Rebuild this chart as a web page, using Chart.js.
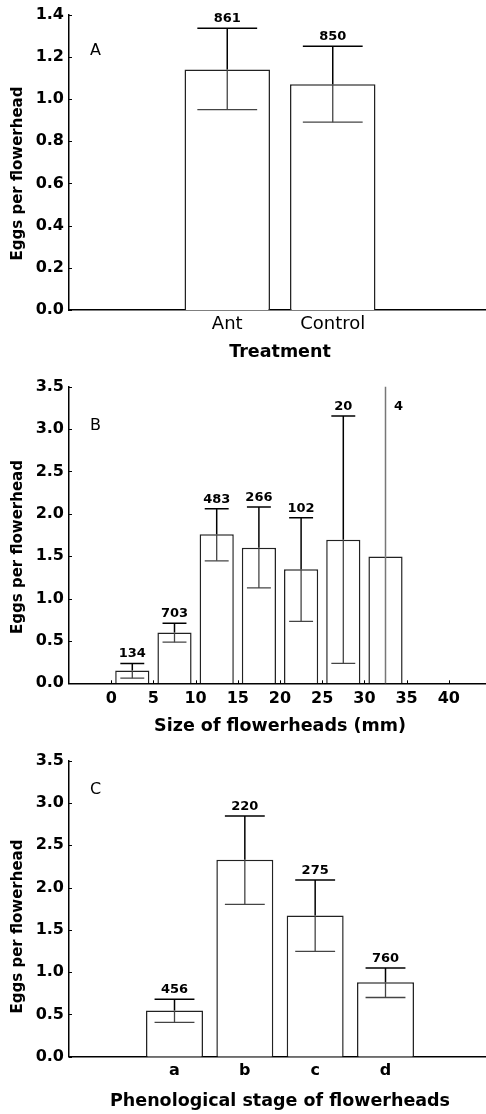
<!DOCTYPE html>
<html><head><meta charset="utf-8">
<script src="https://cdn.jsdelivr.net/npm/chart.js@4.4.1/dist/chart.umd.min.js"></script>
<style>
html,body{margin:0;padding:0;background:#fff;overflow:hidden;width:486px;height:1114px;}
.p{position:absolute;left:0;width:491px;}
</style></head><body>
<div class="p" style="top:0;height:364px"><canvas id="cA"></canvas></div>
<div class="p" style="top:364px;height:376px"><canvas id="cB"></canvas></div>
<div class="p" style="top:740px;height:374px"><canvas id="cC"></canvas></div>
<script>
// ---------- Panel A : treatment ----------
const treatmentLabels = ['', 'Ant', 'Control', ''];
const meanA  = [null, 1.14, 1.07, null];
const lowerA = [null, 0.95, 0.89, null];
const upperA = [null, 1.335, 1.25, null];
const nA     = [null, 861, 850, null];
const yTicksA = [0, 0.2, 0.4, 0.6, 0.8, 1.0, 1.2, 1.4];

// ---------- Panel B : size of flowerheads ----------
const sizeMid = [2.5, 7.5, 12.5, 17.5, 22.5, 27.5, 32.5];
const meanB  = [0.15, 0.60, 1.76, 1.60, 1.345, 1.695, 1.495];
const lowerB = [0.06, 0.485, 1.445, 1.125, 0.73, 0.235, -1.0];
const upperB = [0.235, 0.71, 2.06, 2.08, 1.955, 3.155, 4.5];
const nB     = [134, 703, 483, 266, 102, 20, 4];
const xTicksB = [0, 5, 10, 15, 20, 25, 30, 35, 40];
const yTicksB = [0, 0.5, 1.0, 1.5, 2.0, 2.5, 3.0, 3.5];

// ---------- Panel C : phenological stage ----------
const stageLabels = ['', 'a', 'b', 'c', 'd', ''];
const meanC  = [null, 0.545, 2.33, 1.67, 0.88, null];
const lowerC = [null, 0.405, 1.80, 1.245, 0.70, null];
const upperC = [null, 0.68, 2.845, 2.09, 1.05, null];
const nC     = [null, 456, 220, 275, 760, null];
const yTicksC = [0, 0.5, 1.0, 1.5, 2.0, 2.5, 3.0, 3.5];

const FONT = "'DejaVu Sans', sans-serif";

const decor = {
  id: 'decor',
  afterDatasetsDraw(chart, args, o) {
    const ctx = chart.ctx, ca = chart.chartArea;
    const xs = chart.scales.x, ys = chart.scales.y;
    const meta = chart.getDatasetMeta(0);
    // inside tick marks
    ctx.save();
    ctx.strokeStyle = '#000'; ctx.lineWidth = 1;
    ys.ticks.forEach(t => {
      const y = Math.round(ys.getPixelForValue(t.value)) + 0.5;
      ctx.beginPath(); ctx.moveTo(ca.left, y); ctx.lineTo(ca.left + 3, y); ctx.stroke();
    });
    if (o.xTicksInside) {
      xs.ticks.forEach(t => {
        const x = Math.round(xs.getPixelForValue(t.value)) + 0.5;
        ctx.beginPath(); ctx.moveTo(x, ca.bottom); ctx.lineTo(x, ca.bottom - 3); ctx.stroke();
      });
    }
    ctx.restore();
    // error bars
    ctx.save();
    ctx.beginPath(); ctx.rect(ca.left, ca.top, ca.right - ca.left, ca.bottom - ca.top); ctx.clip();
    meta.data.forEach((bar, i) => {
      const m = o.mean[i]; if (m === null || m === undefined) return;
      const x = bar.x, w = bar.width * 0.7;
      const ym = ys.getPixelForValue(m), yu = ys.getPixelForValue(o.upper[i]), yl = ys.getPixelForValue(o.lower[i]);
      const truncated = o.upper[i] > ys.max;
      ctx.lineWidth = 1.5;
      ctx.strokeStyle = truncated ? '#777' : '#000';
      ctx.beginPath(); ctx.moveTo(x, ym); ctx.lineTo(x, yu); ctx.stroke();
      ctx.beginPath(); ctx.moveTo(x - w / 2, yu); ctx.lineTo(x + w / 2, yu); ctx.stroke();
      ctx.lineWidth = truncated ? 1.5 : 1.3;
      ctx.strokeStyle = truncated ? '#777' : '#444';
      ctx.beginPath(); ctx.moveTo(x, ym); ctx.lineTo(x, yl); ctx.stroke();
      ctx.beginPath(); ctx.moveTo(x - w / 2, yl); ctx.lineTo(x + w / 2, yl); ctx.stroke();
    });
    ctx.restore();
    // sample sizes
    ctx.save();
    ctx.fillStyle = '#000';
    ctx.font = 'bold 13px ' + FONT;
    meta.data.forEach((bar, i) => {
      const n = o.n[i]; if (n === null || n === undefined) return;
      if (o.upper[i] > ys.max) {
        ctx.textAlign = 'left'; ctx.textBaseline = 'alphabetic';
        ctx.fillText(String(n), bar.x + 8.5, ca.top + 23);
      } else {
        ctx.textAlign = 'center'; ctx.textBaseline = 'alphabetic';
        ctx.fillText(String(n), bar.x, ys.getPixelForValue(o.upper[i]) - 6);
      }
    });
    // panel letter
    ctx.font = '16px ' + FONT;
    ctx.textAlign = 'left'; ctx.textBaseline = 'middle';
    ctx.fillText(o.letter, 90, o.letterY);
    // y axis title
    ctx.font = 'bold 15px ' + FONT;
    ctx.translate(18, o.yTitleY);
    ctx.rotate(-Math.PI / 2);
    ctx.textAlign = 'center'; ctx.textBaseline = 'middle';
    ctx.fillText('Eggs per flowerhead', 0, 0);
    ctx.restore();
  }
};

function yScale(ticksArr, max) {
  return {
    min: 0, max: max,
    afterBuildTicks: s => { s.ticks = ticksArr.map(v => ({ value: v })); },
    afterFit: s => { s.width = 69; },
    grid: { display: false, drawTicks: false },
    border: { display: true, color: '#000', width: 1.5 },
    ticks: { color: '#000', padding: 5, font: { family: FONT, size: 16, weight: 'bold' },
             callback: v => Number(v).toFixed(1) }
  };
}

function makeChart(id, cfg) {
  return new Chart(document.getElementById(id), {
    type: 'bar',
    data: cfg.data,
    plugins: [decor],
    options: {
      responsive: true, maintainAspectRatio: false, animation: false,
      layout: { padding: { top: cfg.padTop, left: 0, right: 0, bottom: 0 } },
      plugins: { legend: { display: false }, tooltip: { enabled: false }, decor: cfg.decor },
      scales: { x: cfg.x, y: cfg.y }
    }
  });
}

const barStyle = { backgroundColor: '#fff', borderColor: '#222', borderWidth: 1.5,
                   barPercentage: 0.81, categoryPercentage: 1.0 };

// Panel A
makeChart('cA', {
  padTop: 13,
  data: { labels: treatmentLabels, datasets: [Object.assign({ data: meanA }, barStyle)] },
  x: {
    afterFit: s => { s.height = 54; },
    grid: { display: false, drawTicks: false },
    border: { display: true, color: '#000', width: 1.5 },
    ticks: { color: '#000', padding: 4, font: { family: FONT, size: 18 } },
    title: { display: true, text: 'Treatment', color: '#000', padding: { top: 0, bottom: 1.5 },
             font: { family: FONT, size: 17.5, weight: 'bold' } }
  },
  y: yScale(yTicksA, 1.4),
  decor: { mean: meanA, lower: lowerA, upper: upperA, n: nA, letter: 'A', letterY: 51, yTitleY: 173.5 }
});

// Panel B
makeChart('cB', {
  padTop: 22.7,
  data: { datasets: [Object.assign({ data: sizeMid.map((x, i) => ({ x: x, y: meanB[i] })) }, barStyle)] },
  x: {
    type: 'linear', min: -5, max: 45, offset: false,
    afterBuildTicks: s => { s.ticks = xTicksB.map(v => ({ value: v })); },
    afterFit: s => { s.height = 56.7; },
    grid: { display: false, drawTicks: false },
    border: { display: true, color: '#000', width: 1.5 },
    ticks: { color: '#000', padding: 6, font: { family: FONT, size: 16, weight: 'bold' },
             callback: v => String(v) },
    title: { display: true, text: 'Size of flowerheads (mm)', color: '#000', padding: { top: 0, bottom: 2.8 },
             font: { family: FONT, size: 17.5, weight: 'bold' } }
  },
  y: yScale(yTicksB, 3.5),
  decor: { mean: meanB, lower: lowerB, upper: upperB, n: nB, letter: 'B', letterY: 62, yTitleY: 183, xTicksInside: true }
});

// Panel C
makeChart('cC', {
  padTop: 20.7,
  data: { labels: stageLabels, datasets: [Object.assign({ data: meanC }, barStyle)] },
  x: {
    afterFit: s => { s.height = 57.3; },
    grid: { display: false, drawTicks: false },
    border: { display: true, color: '#000', width: 1.5 },
    ticks: { color: '#000', padding: 5, font: { family: FONT, size: 16, weight: 'bold' } },
    title: { display: true, text: 'Phenological stage of flowerheads', color: '#000', padding: { top: 0, bottom: 1.8 },
             font: { family: FONT, size: 17.5, weight: 'bold' } }
  },
  y: yScale(yTicksC, 3.5),
  decor: { mean: meanC, lower: lowerC, upper: upperC, n: nC, letter: 'C', letterY: 50, yTitleY: 186.5 }
});
</script>
</body></html>
